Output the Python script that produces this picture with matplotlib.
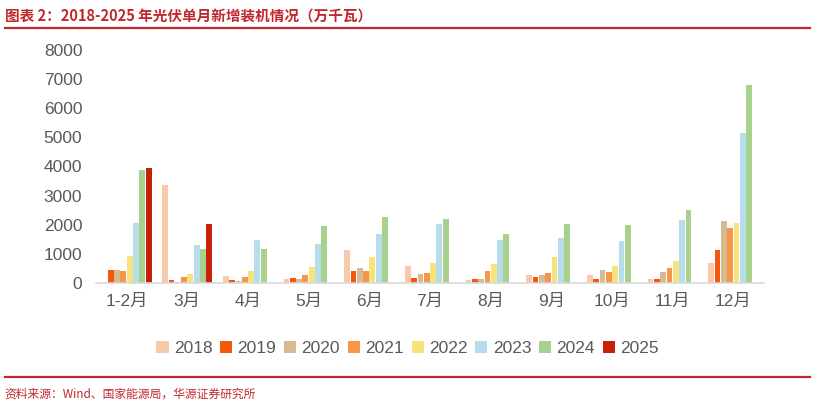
import matplotlib.pyplot as plt
import numpy as np

plt.rcParams['font.family'] = ['Liberation Sans', 'Noto Sans CJK SC', 'DejaVu Sans']

# months on the x axis
months = ['1-2月', '3月', '4月', '5月', '6月', '7月', '8月', '9月', '10月', '11月', '12月']
years = ['2018', '2019', '2020', '2021', '2022', '2023', '2024', '2025']

# monthly new PV installations, 万千瓦 (None = no data)
v2018 = [0, 3350, 250, 150, 1130, 590, 120, 260, 265, 150, 690]
v2019 = [436, 115, 115, 170, 400, 170, 130, 190, 140, 140, 1120]
v2020 = [430, 20, 80, 150, 510, 300, 150, 260, 460, 370, 2140]
v2021 = [400, 195, 195, 270, 420, 360, 410, 330, 370, 530, 1900]
v2022 = [930, 300, 410, 540, 880, 690, 660, 880, 570, 760, 2050]
v2023 = [2050, 1310, 1480, 1350, 1690, 2010, 1460, 1560, 1455, 2150, 5150]
v2024 = [3870, 1180, 1160, 1950, 2250, 2200, 1690, 2030, 1990, 2500, 6780]
v2025 = [3950, 2030, None, None, None, None, None, None, None, None, None]

colors = ['#F8C9AA', '#F5580C', '#D9B98F', '#F5964A', '#F7E37C',
          '#B6DDE9', '#A9D18E', '#C62209']

series = [v2018, v2019, v2020, v2021, v2022, v2023, v2024, v2025]

fig = plt.figure(figsize=(8.15, 4.09), dpi=100)
ax = fig.add_axes([0.118, 0.308, 0.819, 0.570])

x = np.arange(len(months))
slot = 0.104
for i, (vals, c, yr) in enumerate(zip(series, colors, years)):
    xs = []
    hs = []
    for j, v in enumerate(vals):
        if v is not None:
            xs.append(x[j] + (i - 3.5) * slot)
            hs.append(v)
    ax.bar(xs, hs, width=slot * 0.92, color=c, label=yr)

ax.set_xlim(-0.5, 10.5)
ax.set_ylim(0, 8000)
ax.set_yticks(range(0, 8001, 1000))
ax.set_xticks(x)
ax.set_xticklabels(months)
ax.tick_params(axis='both', length=0, labelsize=12.5, colors='#595959')
ax.tick_params(axis='y', pad=10)
ax.tick_params(axis='x', pad=8)
for s in ['top', 'right', 'left']:
    ax.spines[s].set_visible(False)
ax.spines['bottom'].set_color('#D9D9D9')
ax.spines['bottom'].set_linewidth(1.2)

leg = fig.legend(loc='center', bbox_to_anchor=(0.5, 0.148), ncol=8, frameon=False,
                 fontsize=12.5, handlelength=0.7, handleheight=0.7,
                 handletextpad=0.3, columnspacing=0.45)
for t in leg.get_texts():
    t.set_color('#595959')

red = '#C0282D'
fig.text(0.006, 0.963, '图表 2：2018-2025 年光伏单月新增装机情况（万千瓦）',
         fontsize=10.5, fontweight='bold', color=red, va='center',
         family=['Noto Sans CJK SC', 'DejaVu Sans'])
fig.add_artist(plt.Line2D([0.006, 0.994], [0.931, 0.931], color=red, lw=1.6))
fig.add_artist(plt.Line2D([0.006, 0.994], [0.078, 0.078], color=red, lw=1.6))
fig.text(0.006, 0.036, '资料来源：Wind、国家能源局，华源证券研究所',
         fontsize=8.5, color=red, va='center',
         family=['Noto Sans CJK SC', 'DejaVu Sans'])

fig.savefig('out.png', dpi=100)
